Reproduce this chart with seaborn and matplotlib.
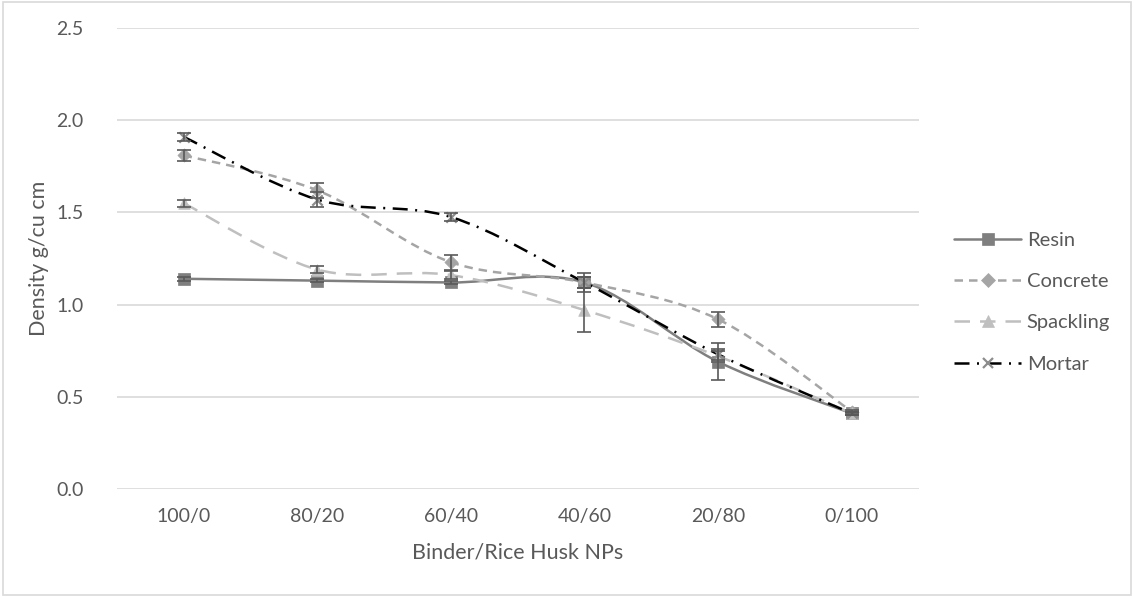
import numpy as np
import pandas as pd
import matplotlib
matplotlib.use("Agg")
import matplotlib.pyplot as plt
from matplotlib.path import Path
from matplotlib.patches import PathPatch, Rectangle
from matplotlib.lines import Line2D
import seaborn as sns

categories = ["100/0", "80/20", "60/40", "40/60", "20/80", "0/100"]
series = ["Resin", "Concrete", "Spackling", "Mortar"]

resin = [1.14, 1.13, 1.12, 1.12, 0.69, 0.41]
concrete = [1.81, 1.62, 1.23, 1.12, 0.92, 0.42]
spackling = [1.55, 1.19, 1.16, 0.97, 0.72, 0.41]
mortar = [1.91, 1.57, 1.475, 1.12, 0.73, 0.41]

resin_err = [0.01, 0.01, 0.01, 0.05, 0.10, 0.01]
concrete_err = [0.03, 0.04, 0.04, 0.03, 0.04, 0.01]
spackling_err = [0.02, 0.02, 0.02, 0.12, 0.03, 0.01]
mortar_err = [0.02, 0.04, 0.02, 0.03, 0.03, 0.01]

values = {"Resin": resin, "Concrete": concrete, "Spackling": spackling, "Mortar": mortar}
errors = {"Resin": resin_err, "Concrete": concrete_err, "Spackling": spackling_err, "Mortar": mortar_err}

colors = {"Resin": "#7f7f7f", "Concrete": "#a5a5a5", "Spackling": "#bfbfbf", "Mortar": "#000000"}
marker_colors = {"Resin": "#7f7f7f", "Concrete": "#a5a5a5", "Spackling": "#bfbfbf", "Mortar": "#8c8c8c"}
markers = {"Resin": "s", "Concrete": "D", "Spackling": "^", "Mortar": "x"}
marker_sizes = {"Resin": 80, "Concrete": 45, "Spackling": 70, "Mortar": 55}
line_w = 1.8
dashes = {
    "Resin": "solid",
    "Concrete": (0, (3.4, 2.4)),
    "Spackling": (0, (6.2, 4.0)),
    "Mortar": (0, (6.0, 3.0, 0.8, 3.0)),
}

df = pd.DataFrame([
    {"x": i, "cat": c, "series": s, "density": values[s][i], "err": errors[s][i]}
    for s in series for i, c in enumerate(categories)
])

sns.set_style("white")
plt.rcParams["font.family"] = ["Lato", "DejaVu Sans"]
fs = 14
txt = "#595959"

fig = plt.figure(figsize=(11.34, 5.97), dpi=100)
ax = fig.add_axes([0.103, 0.181, 0.707, 0.772])

# outer chart border
fig.patches.append(Rectangle((0.003, 0.004), 0.994, 0.992, transform=fig.transFigure,
                             fill=False, edgecolor="#d9d9d9", lw=1.2))


def smooth_path(xs, ys):
    # Excel-like smoothed line: cubic bezier segments through the data
    pts = np.column_stack([xs, ys]).astype(float)
    n = len(pts)
    verts = [pts[0]]
    codes = [Path.MOVETO]
    for i in range(n - 1):
        p0 = pts[i - 1] if i > 0 else pts[i]
        p1 = pts[i]
        p2 = pts[i + 1]
        p3 = pts[i + 2] if i + 2 < n else pts[i + 1]
        c1 = p1 + (p2 - p0) / 6.0
        c2 = p2 - (p3 - p1) / 6.0
        verts += [c1, c2, p2]
        codes += [Path.CURVE4] * 3
    return Path(verts, codes)


for s in series:
    sub = df[df["series"] == s]
    ax.add_patch(PathPatch(smooth_path(sub["x"], sub["density"]), fill=False,
                           edgecolor=colors[s], lw=line_w, linestyle=dashes[s],
                           capstyle="butt", zorder=2))

for s in series:
    sub = df[df["series"] == s]
    if markers[s] == "x":
        sns.scatterplot(data=sub, x="x", y="density", marker="x", color=marker_colors[s],
                        s=marker_sizes[s], linewidth=1.6, ax=ax, zorder=3, legend=False)
    else:
        sns.scatterplot(data=sub, x="x", y="density", marker=markers[s],
                        color=marker_colors[s], s=marker_sizes[s], edgecolor=marker_colors[s],
                        linewidth=0.5, ax=ax, zorder=3, legend=False)
    ax.errorbar(sub["x"], sub["density"], yerr=sub["err"], fmt="none",
                ecolor="#595959", elinewidth=1.2, capsize=5, capthick=1.2, zorder=4)

ax.set_xlim(-0.5, len(categories) - 0.5)
ax.set_ylim(0, 2.5)
ax.set_yticks(np.arange(0, 2.51, 0.5))
ax.set_yticklabels([f"{v:.1f}" for v in np.arange(0, 2.51, 0.5)])
ax.set_xticks(range(len(categories)))
ax.set_xticklabels(categories)
ax.yaxis.grid(True, color="#d9d9d9", lw=1.2)
ax.set_axisbelow(True)
for sp in ax.spines.values():
    sp.set_visible(False)
ax.tick_params(axis="both", length=0, labelsize=fs, labelcolor=txt)
ax.tick_params(axis="x", pad=14)
ax.tick_params(axis="y", pad=24)

ax.set_xlabel("Binder/Rice Husk NPs", fontsize=15.5, color=txt, labelpad=12)
ax.set_ylabel("Density g/cu cm", fontsize=15.5, color=txt, labelpad=5)

handles = [
    Line2D([0], [0], color=colors[s], lw=line_w, linestyle=dashes[s], marker=markers[s],
           markersize=np.sqrt(marker_sizes[s]), markerfacecolor=marker_colors[s],
           markeredgecolor=marker_colors[s], markeredgewidth=1.6 if markers[s] == "x" else 0.5)
    for s in series
]
leg = ax.legend(handles, series, loc="center left", bbox_to_anchor=(1.022, 0.405),
                frameon=False, handlelength=3.3, labelspacing=1.2, fontsize=14.5,
                handletextpad=0.3)
for t in leg.get_texts():
    t.set_color(txt)

fig.savefig("out.png", dpi=100)
